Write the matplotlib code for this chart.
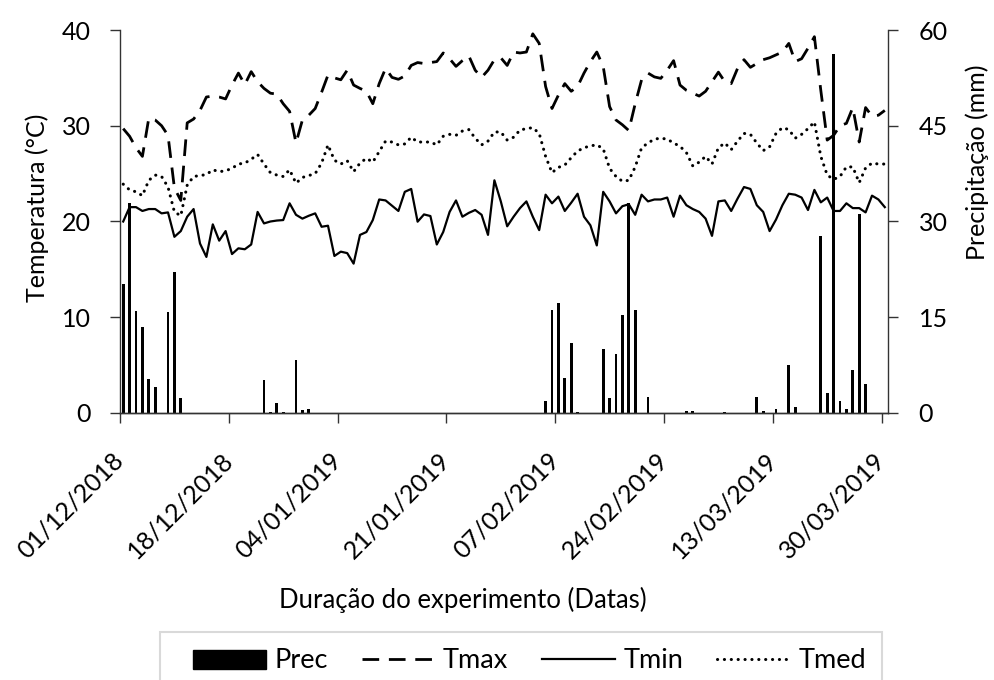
import numpy as np
import matplotlib
matplotlib.use("Agg")
import matplotlib.pyplot as plt
from matplotlib.patches import Rectangle
from matplotlib.lines import Line2D
from matplotlib.transforms import ScaledTranslation

plt.rcParams['font.family'] = ['Lato', 'DejaVu Sans']

# daily series, 01/12/2018 .. 30/03/2019 (120 days)
tmax = [29.7, 28.9, 27.7, 26.8, 30.8, 30.6, 30.0, 29.0, 23.5, 22.2,
        30.3, 30.7, 31.6, 33.0, 33.1, 33.0, 32.8, 34.25, 35.5, 34.3,
        35.65, 34.6, 33.9, 33.4, 33.3, 32.3, 31.5, 28.2, 30.6, 31.1,
        31.8, 33.5, 35.3, 35.0, 34.8, 35.8, 34.25, 33.9, 33.6, 32.3,
        34.4, 36.0, 35.05, 34.85, 35.2, 36.3, 36.6, 36.5, 36.6, 36.7,
        37.6, 37.0, 36.2, 36.8, 37.3, 35.8, 35.05, 35.8, 36.9, 37.1,
        36.3, 37.7, 37.6, 37.7, 39.6, 38.6, 34.1, 31.8, 33.2, 34.4,
        33.6, 34.1, 35.5, 36.7, 37.7, 36.2, 32.0, 30.6, 30.1, 29.5,
        32.3, 34.8, 35.5, 35.1, 34.95, 35.8, 36.8, 34.25, 33.7, 33.4,
        33.1, 33.6, 34.6, 35.6, 34.6, 34.4, 36.0, 36.9, 36.1, 36.5,
        36.9, 37.1, 37.4, 37.7, 38.6, 36.7, 37.0, 38.1, 39.3, 33.7,
        28.5, 29.0, 30.0, 30.25, 31.9, 28.3, 31.9, 31.0, 31.1, 31.6]

tmin = [20.0, 21.5, 21.5, 21.1, 21.3, 21.3, 20.85, 20.95, 18.4, 19.0,
        20.5, 21.3, 17.7, 16.3, 19.7, 18.0, 19.0, 16.6, 17.2, 17.1,
        17.6, 21.0, 19.8, 20.0, 20.1, 20.15, 21.9, 20.7, 20.3, 20.6,
        20.85, 19.45, 19.56, 16.4, 16.85, 16.7, 15.6, 18.6, 18.9, 20.15,
        22.3, 22.2, 21.65, 21.1, 23.1, 23.4, 19.98, 20.74, 20.57, 17.6,
        18.9, 21.0, 22.2, 20.5, 20.9, 21.2, 20.7, 18.6, 24.3, 22.1,
        19.5, 20.5, 21.4, 22.1, 20.5, 19.1, 22.8, 21.9, 22.6, 21.1,
        21.96, 22.9, 20.5, 19.6, 17.5, 23.1, 22.1, 20.85, 21.6, 21.8,
        20.7, 22.8, 22.1, 22.3, 22.3, 22.5, 20.5, 22.7, 21.7, 21.3,
        21.0, 20.3, 18.5, 22.1, 22.2, 21.1, 22.4, 23.6, 23.4, 21.7,
        21.0, 19.0, 20.2, 21.7, 22.9, 22.8, 22.5, 21.2, 23.3, 22.0,
        22.5, 21.1, 21.1, 21.9, 21.4, 21.4, 20.95, 22.7, 22.3, 21.5]

tmed = [23.9, 23.3, 23.1, 22.7, 24.3, 24.85, 24.7, 23.6, 21.0, 20.6,
        23.8, 24.7, 24.8, 24.9, 25.4, 25.2, 25.3, 25.55, 26.0, 26.1,
        26.5, 27.0, 26.0, 25.1, 24.85, 24.7, 25.4, 24.0, 24.6, 24.8,
        25.0, 26.1, 28.0, 26.4, 26.0, 26.35, 25.2, 26.1, 26.6, 26.2,
        27.3, 28.4, 28.3, 28.0, 28.1, 28.8, 28.3, 28.3, 28.3, 28.0,
        28.9, 29.1, 29.0, 29.45, 29.6, 28.7, 28.0, 28.4, 29.35, 29.35,
        28.5, 28.8, 29.55, 29.7, 29.8, 29.2, 26.8, 25.1, 25.65, 25.9,
        26.66, 27.36, 27.7, 27.9, 28.0, 27.6, 25.55, 24.7, 24.2, 24.3,
        25.7, 27.7, 28.2, 28.6, 28.7, 28.6, 28.2, 27.85, 27.2, 25.8,
        26.2, 26.8, 26.0, 27.7, 28.2, 27.5, 28.4, 29.2, 29.1, 28.2,
        27.4, 27.8, 29.2, 29.8, 29.6, 28.7, 29.1, 29.7, 30.4, 26.8,
        24.85, 24.4, 24.7, 25.7, 25.7, 24.05, 25.6, 26.1, 26.0, 26.0]

prec = [20.2, 32.9, 16.0, 13.5, 5.3, 4.1, 0, 15.8, 22.1, 2.3,
        0, 0, 0, 0, 0, 0, 0, 0, 0, 0,
        0, 0, 5.2, 0.2, 1.6, 0.2, 0, 8.3, 0.5, 0.7,
        0, 0, 0, 0, 0, 0, 0, 0, 0, 0,
        0, 0, 0, 0, 0, 0, 0, 0, 0, 0,
        0, 0, 0, 0, 0, 0, 0, 0, 0, 0,
        0, 0, 0, 0, 0, 0, 1.9, 16.1, 17.2, 5.5,
        11.0, 0.2, 0, 0, 0, 10.0, 2.3, 9.2, 15.4, 32.9,
        16.1, 0, 2.5, 0, 0, 0, 0, 0, 0.3, 0.3,
        0, 0, 0, 0, 0.1, 0, 0, 0, 0, 2.5,
        0.3, 0, 0.7, 0, 7.5, 0.9, 0, 0, 0, 27.7,
        3.1, 56.3, 1.9, 0.7, 6.7, 31.2, 4.6, 0, 0, 0]

tick_days = [0, 17, 34, 51, 68, 85, 102, 119]
tick_labels = ["01/12/2018", "18/12/2018", "04/01/2019", "21/01/2019",
               "07/02/2019", "24/02/2019", "13/03/2019", "30/03/2019"]

days = np.arange(len(tmax))
axc = '#333333'
dash_max = (0, (6, 3.5))
dot_med = (0, (0.05, 2.2))

fig = plt.figure(figsize=(9.94, 6.8), dpi=100)
ax = fig.add_axes([120 / 994, 1 - 413 / 680, 768 / 994, 383 / 680])
ax2 = ax.twinx()
ax.set_zorder(ax2.get_zorder() + 1)
ax.patch.set_visible(False)

ax2.bar(days, prec, width=0.45, color='black')
ax.plot(days, tmax, color='black', lw=2.0, linestyle=dash_max)
ax.plot(days, tmin, color='black', lw=1.6)
ax.plot(days, tmed, color='black', lw=2.2, linestyle=dot_med,
        dash_capstyle='round')

ax.set_xlim(-0.5, 119.5)
ax.set_ylim(0, 40)
ax2.set_ylim(0, 60)
ax.set_yticks([0, 10, 20, 30, 40])
ax2.set_yticks([0, 15, 30, 45, 60])
ax.set_xticks([d - 0.5 for d in tick_days])
ax.set_xticklabels(tick_labels, rotation=45, ha='right', va='center',
                   rotation_mode='anchor')
for lab in ax.get_xticklabels():
    lab.set_transform(lab.get_transform() + ScaledTranslation(0.05, 0, fig.dpi_scale_trans))

for a in (ax, ax2):
    a.spines['top'].set_visible(False)
    for s in a.spines.values():
        s.set_color(axc)
        s.set_linewidth(1.0)
ax.spines['right'].set_visible(False)
ax2.spines['left'].set_visible(False)
ax.tick_params(axis='y', length=7, width=1, color=axc, pad=14, labelsize=18)
ax.tick_params(axis='x', length=7, width=1, color=axc, pad=24, labelsize=18)
ax2.tick_params(axis='y', length=7, width=1, color=axc, pad=15, labelsize=18)

fig.text(37 / 994, 1 - 208 / 680, "Temperatura (°C)", rotation=90,
         ha='center', va='center', fontsize=18)
fig.text(977 / 994, 1 - 162 / 680, "Precipitação (mm)", rotation=90,
         ha='center', va='center', fontsize=18)
fig.text(463 / 994, 1 - 600 / 680, "Duração do experimento (Datas)",
         ha='center', va='center', fontsize=18.5)

# legend frame (runs off the bottom of the figure like the original)
fig.patches.append(Rectangle((160 / 994, -0.05), (882 - 160) / 994,
                             (680 - 632) / 680 + 0.05, transform=fig.transFigure,
                             fill=False, edgecolor='#d9d9d9', lw=1.5))

handles = [Rectangle((0, 0), 1, 1, color='black'),
           Line2D([], [], color='black', lw=2.0, linestyle=dash_max),
           Line2D([], [], color='black', lw=1.6),
           Line2D([], [], color='black', lw=2.2, linestyle=dot_med,
                  dash_capstyle='round')]
leg = fig.legend(handles, ["Prec", "Tmax", "Tmin", "Tmed"], ncol=4,
                 loc='center left', bbox_to_anchor=(193 / 994, 1 - 661 / 680),
                 borderaxespad=0, borderpad=0, fontsize=19.5, frameon=False,
                 handlelength=2.7, handleheight=0.7, handletextpad=0.3,
                 columnspacing=1.25)

fig.savefig("out.png", dpi=100)
